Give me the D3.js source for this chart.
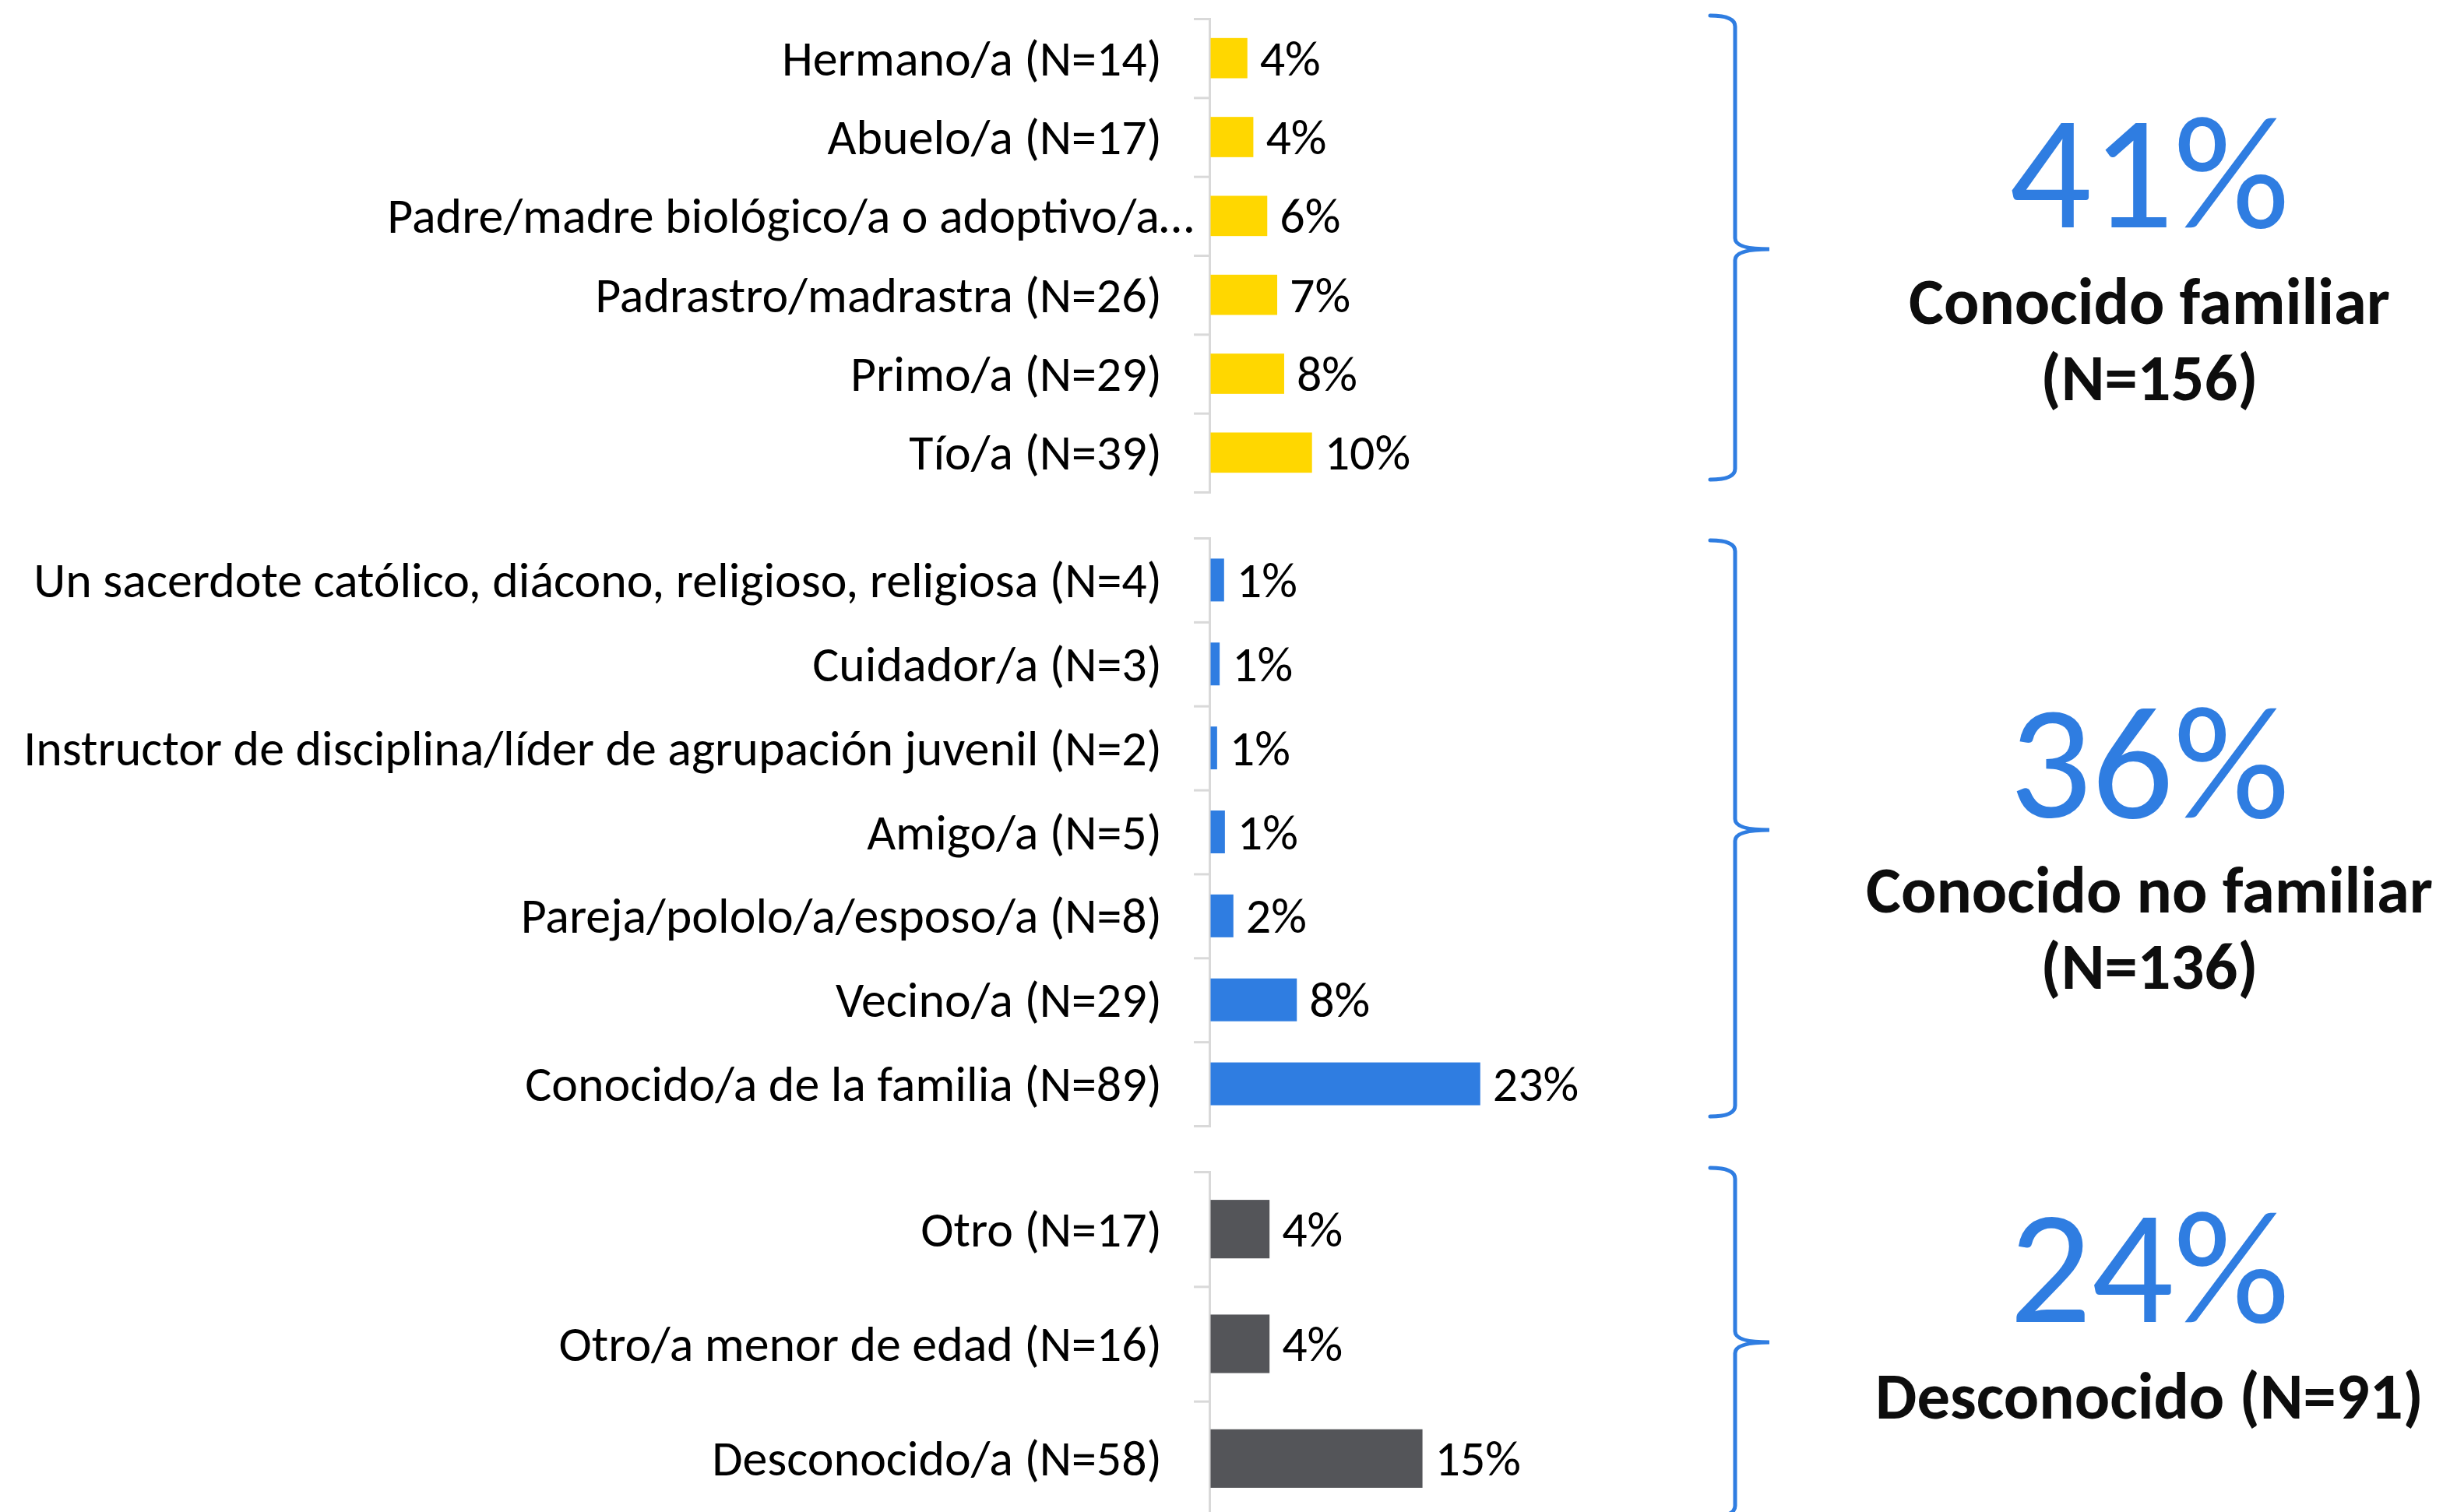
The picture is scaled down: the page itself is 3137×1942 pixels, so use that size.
<!DOCTYPE html>
<html>
<head>
<meta charset="utf-8">
<script src="https://cdn.jsdelivr.net/npm/d3@7"></script>
<style>
  body { margin: 0; background: #fff; }
  svg { display: block; }
  text { font-family: Carlito, Calibri, Lato, "Open Sans", sans-serif; }
</style>
</head>
<body>
<svg id="chart"></svg>
<script>
// Conocido familiar
const familiarLabels = ['Hermano/a (N=14)', 'Abuelo/a (N=17)', 'Padre/madre biológico/a o adoptivo/a…',
  'Padrastro/madrastra (N=26)', 'Primo/a (N=29)', 'Tío/a (N=39)']
const familiarValues = [3.7, 4.3, 5.7, 6.7, 7.4, 10.2]
const familiarText = ['4%', '4%', '6%', '7%', '8%', '10%']

// Conocido no familiar
const noFamiliarLabels = ['Un sacerdote católico, diácono, religioso, religiosa (N=4)', 'Cuidador/a (N=3)',
  'Instructor de disciplina/líder de agrupación juvenil (N=2)', 'Amigo/a (N=5)',
  'Pareja/pololo/a/esposo/a (N=8)', 'Vecino/a (N=29)', 'Conocido/a de la familia (N=89)']
const noFamiliarValues = [1.16, 0.78, 0.56, 1.23, 1.96, 7.42, 23.2]
const noFamiliarText = ['1%', '1%', '1%', '1%', '2%', '8%', '23%']

// Desconocido
const desconocidoLabels = ['Otro (N=17)', 'Otro/a menor de edad (N=16)', 'Desconocido/a (N=58)']
const desconocidoValues = [4.2, 4.2, 15.1]
const desconocidoText = ['4%', '4%', '15%']

// group summaries on the right
const groupPercent = ['41%', '36%', '24%']
const groupTitle = [['Conocido familiar', '(N=156)'], ['Conocido no familiar', '(N=136)'], ['Desconocido (N=91)']]

const width = 3137
const height = 1942
const axisX = 1553
const plotWidth = 600
const blue = '#2F7DE1'

const sections = [
  { labels: familiarLabels, values: familiarValues, texts: familiarText, color: '#FFD700',
    top: 24, bottom: 632, xMax: 47, brace: [20, 320, 616], pctY: 292, titleY: [416, 514] },
  { labels: noFamiliarLabels, values: noFamiliarValues, texts: noFamiliarText, color: blue,
    top: 691, bottom: 1446, xMax: 40.2, brace: [694, 1066, 1434], pctY: 1050, titleY: [1172, 1270] },
  { labels: desconocidoLabels, values: desconocidoValues, texts: desconocidoText, color: '#545559',
    top: 1505, bottom: 1947, xMax: 33.3, brace: [1500, 1724, 1948], pctY: 1698, titleY: [1822] }
]

const svg = d3.select('#chart').attr('width', width).attr('height', height)

// fit font sizes so the longest texts span the same width as in the original
const probe = svg.append('text').attr('font-size', 60).text(noFamiliarLabels[2])
const labelSize = 60 * 1462 / probe.node().getComputedTextLength()
probe.remove()

const probe2 = svg.append('text').attr('font-size', 200).text('41%')
const bigSize = 200 * 360 / probe2.node().getComputedTextLength()
probe2.remove()

const probe3 = svg.append('text').attr('font-size', 80).attr('font-weight', 'bold').text('Conocido no familiar')
const titleSize = 80 * 728 / probe3.node().getComputedTextLength()
probe3.remove()

sections.forEach(function (s, k) {
  const g = svg.append('g')

  const y = d3.scaleBand()
    .domain(s.labels)
    .range([s.top, s.bottom])
    .paddingInner(0.49)
    .paddingOuter(0.245)

  const x = d3.scaleLinear()
    .domain([0, s.xMax])
    .range([axisX + 1.5, axisX + 1.5 + plotWidth])

  // category axis, ticks sit on the band boundaries
  const yEdge = d3.scaleLinear().domain([0, s.labels.length]).range([s.top, s.bottom])
  const axis = g.append('g')
    .attr('transform', `translate(${axisX},0)`)
    .call(d3.axisLeft(yEdge).tickValues(d3.range(s.labels.length + 1)).tickSize(20).tickFormat(''))
  axis.select('.domain').attr('stroke', '#D9D9D9').attr('stroke-width', 3)
  axis.selectAll('.tick line').attr('stroke', '#D9D9D9').attr('stroke-width', 3)

  g.selectAll('.bar')
    .data(s.values)
    .enter().append('rect')
    .attr('class', 'bar')
    .attr('x', x(0))
    .attr('y', (d, i) => y(s.labels[i]))
    .attr('width', d => x(d) - x(0))
    .attr('height', y.bandwidth())
    .attr('fill', s.color)

  g.selectAll('.value')
    .data(s.values)
    .enter().append('text')
    .attr('class', 'value')
    .attr('x', d => x(d) + 16)
    .attr('y', (d, i) => y(s.labels[i]) + y.bandwidth() / 2)
    .attr('dominant-baseline', 'central')
    .attr('font-size', labelSize)
    .attr('fill', '#000')
    .text((d, i) => s.texts[i])

  g.selectAll('.label')
    .data(s.labels)
    .enter().append('text')
    .attr('class', 'label')
    .attr('x', d => d.endsWith('…') ? axisX - 20 : axisX - 61)
    .attr('y', d => y(d) + y.bandwidth() / 2)
    .attr('text-anchor', 'end')
    .attr('dominant-baseline', 'central')
    .attr('font-size', labelSize)
    .attr('fill', '#000')
    .text(d => d)

  // curly brace
  const [t, m, b] = s.brace
  const x0 = 2196, xv = 2228, xt = 2272, r = 14
  const path = d3.path()
  path.moveTo(x0, t)
  path.quadraticCurveTo(xv, t, xv, t + r)
  path.lineTo(xv, m - r)
  path.quadraticCurveTo(xv, m, xt, m)
  path.quadraticCurveTo(xv, m, xv, m + r)
  path.lineTo(xv, b - r)
  path.quadraticCurveTo(xv, b, x0, b)
  g.append('path')
    .attr('d', path.toString())
    .attr('fill', 'none')
    .attr('stroke', blue)
    .attr('stroke-width', 5)
    .attr('stroke-linecap', 'round')

  // group summary
  g.append('text')
    .attr('x', 2760)
    .attr('y', s.pctY)
    .attr('text-anchor', 'middle')
    .attr('font-size', bigSize)
    .attr('fill', blue)
    .text(groupPercent[k])

  groupTitle[k].forEach(function (line, j) {
    g.append('text')
      .attr('x', 2760)
      .attr('y', s.titleY[j])
      .attr('text-anchor', 'middle')
      .attr('font-size', titleSize)
      .attr('font-weight', 'bold')
      .attr('fill', '#0d0d0d')
      .text(line)
  })
})
</script>
</body>
</html>
